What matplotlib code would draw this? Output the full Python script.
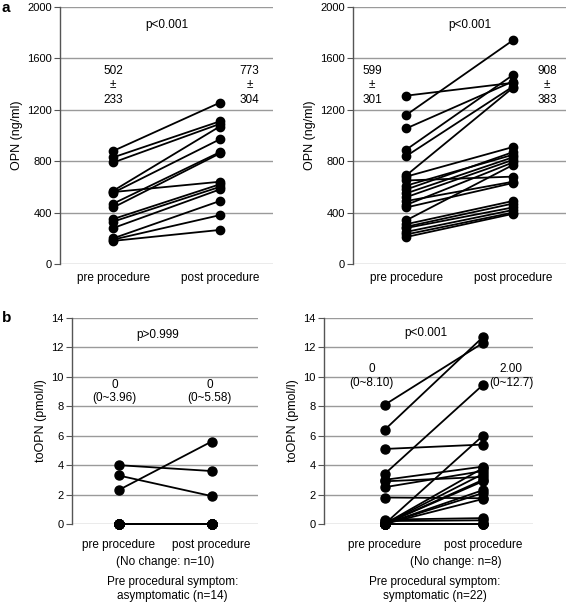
import matplotlib.pyplot as plt

plt.rcParams['font.family'] = ['Liberation Sans', 'DejaVu Sans']
plt.rcParams['font.size'] = 8.5

# ---- data ----
groups = ["pre procedure", "post procedure"]

# panel a, asymptomatic (n=14), OPN ng/ml
a_asym_pre = [880, 830, 790, 570, 555, 470, 440, 560, 350, 330, 280, 200, 190, 180]
a_asym_post = [1255, 1110, 1090, 1070, 970, 870, 860, 640, 620, 600, 580, 490, 380, 265]

# panel a, symptomatic (n=22), OPN ng/ml
a_sym_pre = [1310, 1160, 1055, 890, 840, 690, 680, 650, 610, 580, 550,
             520, 490, 460, 440, 340, 310, 290, 280, 250, 230, 210]
a_sym_post = [1410, 1740, 1420, 1470, 1380, 1370, 910, 680, 850, 870, 830,
              810, 640, 790, 630, 770, 490, 470, 440, 420, 400, 390]

# panel b, asymptomatic (n=14), toOPN pmol/l
b_asym_pre = [4.0, 3.3, 2.3, 0, 0, 0, 0, 0, 0, 0, 0, 0, 0, 0]
b_asym_post = [3.6, 1.9, 5.6, 0, 0, 0, 0, 0, 0, 0, 0, 0, 0, 0]

# panel b, symptomatic (n=22), toOPN pmol/l
b_sym_pre = [8.1, 6.4, 5.1, 3.4, 3.0, 2.9, 2.5, 1.8, 0.3, 0.2,
             0, 0, 0, 0, 0, 0, 0, 0, 0, 0, 0, 0]
b_sym_post = [12.3, 12.7, 5.4, 9.45, 3.9, 3.2, 3.6, 1.75, 0.4, 0.25,
              6.0, 3.8, 3.4, 3.0, 2.9, 2.3, 2.1, 1.7, 0, 0, 0, 0]

W, H = 566, 604
fig = plt.figure(figsize=(W / 100, H / 100), dpi=100)


def make_ax(x0, y0, x1, y1):
    # pixel box -> figure fraction
    return fig.add_axes([x0 / W, 1 - y1 / H, (x1 - x0) / W, (y1 - y0) / H])


def paired(ax, pre, post, ymax, ystep, ylabel, xlim=(-0.5, 1.5), ms=6, xpad=6):
    for p, q in zip(pre, post):
        ax.plot([0, 1], [p, q], color="black", lw=1.3, marker="o",
                ms=ms, mfc="black", mec="black", zorder=3, clip_on=False)
    ax.set_xlim(*xlim)
    ax.set_ylim(0, ymax)
    ticks = list(range(0, ymax + 1, ystep))
    ax.set_yticks(ticks)
    for t in ticks:
        ax.axhline(t, color="#9a9a9a", lw=1.0, zorder=1)
    ax.set_xticks([0, 1])
    ax.set_xticklabels(groups, fontsize=8.5)
    ax.tick_params(axis="x", length=0, pad=xpad)
    ax.tick_params(axis="y", length=4, width=0.8, color="#555555", pad=2, labelsize=8)
    for s in ["top", "right", "bottom"]:
        ax.spines[s].set_visible(False)
    ax.spines["left"].set_color("#555555")
    ax.spines["left"].set_linewidth(1.0)
    ax.set_ylabel(ylabel, fontsize=9, labelpad=3)


# ---- panel a ----
ax1 = make_ax(60, 7, 273, 264)
paired(ax1, a_asym_pre, a_asym_post, 2000, 400, "OPN (ng/ml)")
ax1.text(0.5, 1860, "p<0.001", ha="center", va="center")
ax1.text(0.0, 1390, "502\n±\n233", ha="center", va="center", linespacing=1.25)
ax1.text(1.28, 1390, "773\n±\n304", ha="center", va="center", linespacing=1.25)

ax2 = make_ax(353, 7, 566, 264)
paired(ax2, a_sym_pre, a_sym_post, 2000, 400, "OPN (ng/ml)")
ax2.text(0.6, 1860, "p<0.001", ha="center", va="center")
ax2.text(-0.32, 1390, "599\n±\n301", ha="center", va="center", linespacing=1.25)
ax2.text(1.32, 1390, "908\n±\n383", ha="center", va="center", linespacing=1.25)

# ---- panel b ----
ax3 = make_ax(72, 318, 258, 524)
paired(ax3, b_asym_pre, b_asym_post, 14, 2, "toOPN (pmol/l)", ms=6.5, xpad=11)
ax3.text(0.42, 12.85, "p>0.999", ha="center", va="center")
ax3.text(-0.04, 9.0, "0\n(0~3.96)", ha="center", va="center", linespacing=1.2)
ax3.text(0.98, 9.0, "0\n(0~5.58)", ha="center", va="center", linespacing=1.2)
ax3.text(0.5, -0.185, "(No change: n=10)", transform=ax3.transAxes,
         ha="center", va="center")
ax3.text(0.54, -0.315, "Pre procedural symptom:\nasymptomatic (n=14)",
         transform=ax3.transAxes, ha="center", va="center", linespacing=1.2)

ax4 = make_ax(324, 318, 533, 524)
paired(ax4, b_sym_pre, b_sym_post, 14, 2, "toOPN (pmol/l)",
       xlim=(-0.617, 1.51), ms=6.5, xpad=11)
ax4.text(0.42, 13.0, "p<0.001", ha="center", va="center")
ax4.text(-0.13, 10.05, "0\n(0~8.10)", ha="center", va="center", linespacing=1.2)
ax4.text(1.29, 10.05, "2.00\n(0~12.7)", ha="center", va="center", linespacing=1.2)
ax4.text(0.63, -0.185, "(No change: n=8)", transform=ax4.transAxes,
         ha="center", va="center")
ax4.text(0.53, -0.315, "Pre procedural symptom:\nsymptomatic (n=22)",
         transform=ax4.transAxes, ha="center", va="center", linespacing=1.2)

# panel letters
fig.text(2 / W, 1 - 8 / H, "a", fontsize=11, fontweight="bold", va="center")
fig.text(2 / W, 1 - 318 / H, "b", fontsize=11, fontweight="bold", va="center")

fig.savefig("out.png", dpi=100)
